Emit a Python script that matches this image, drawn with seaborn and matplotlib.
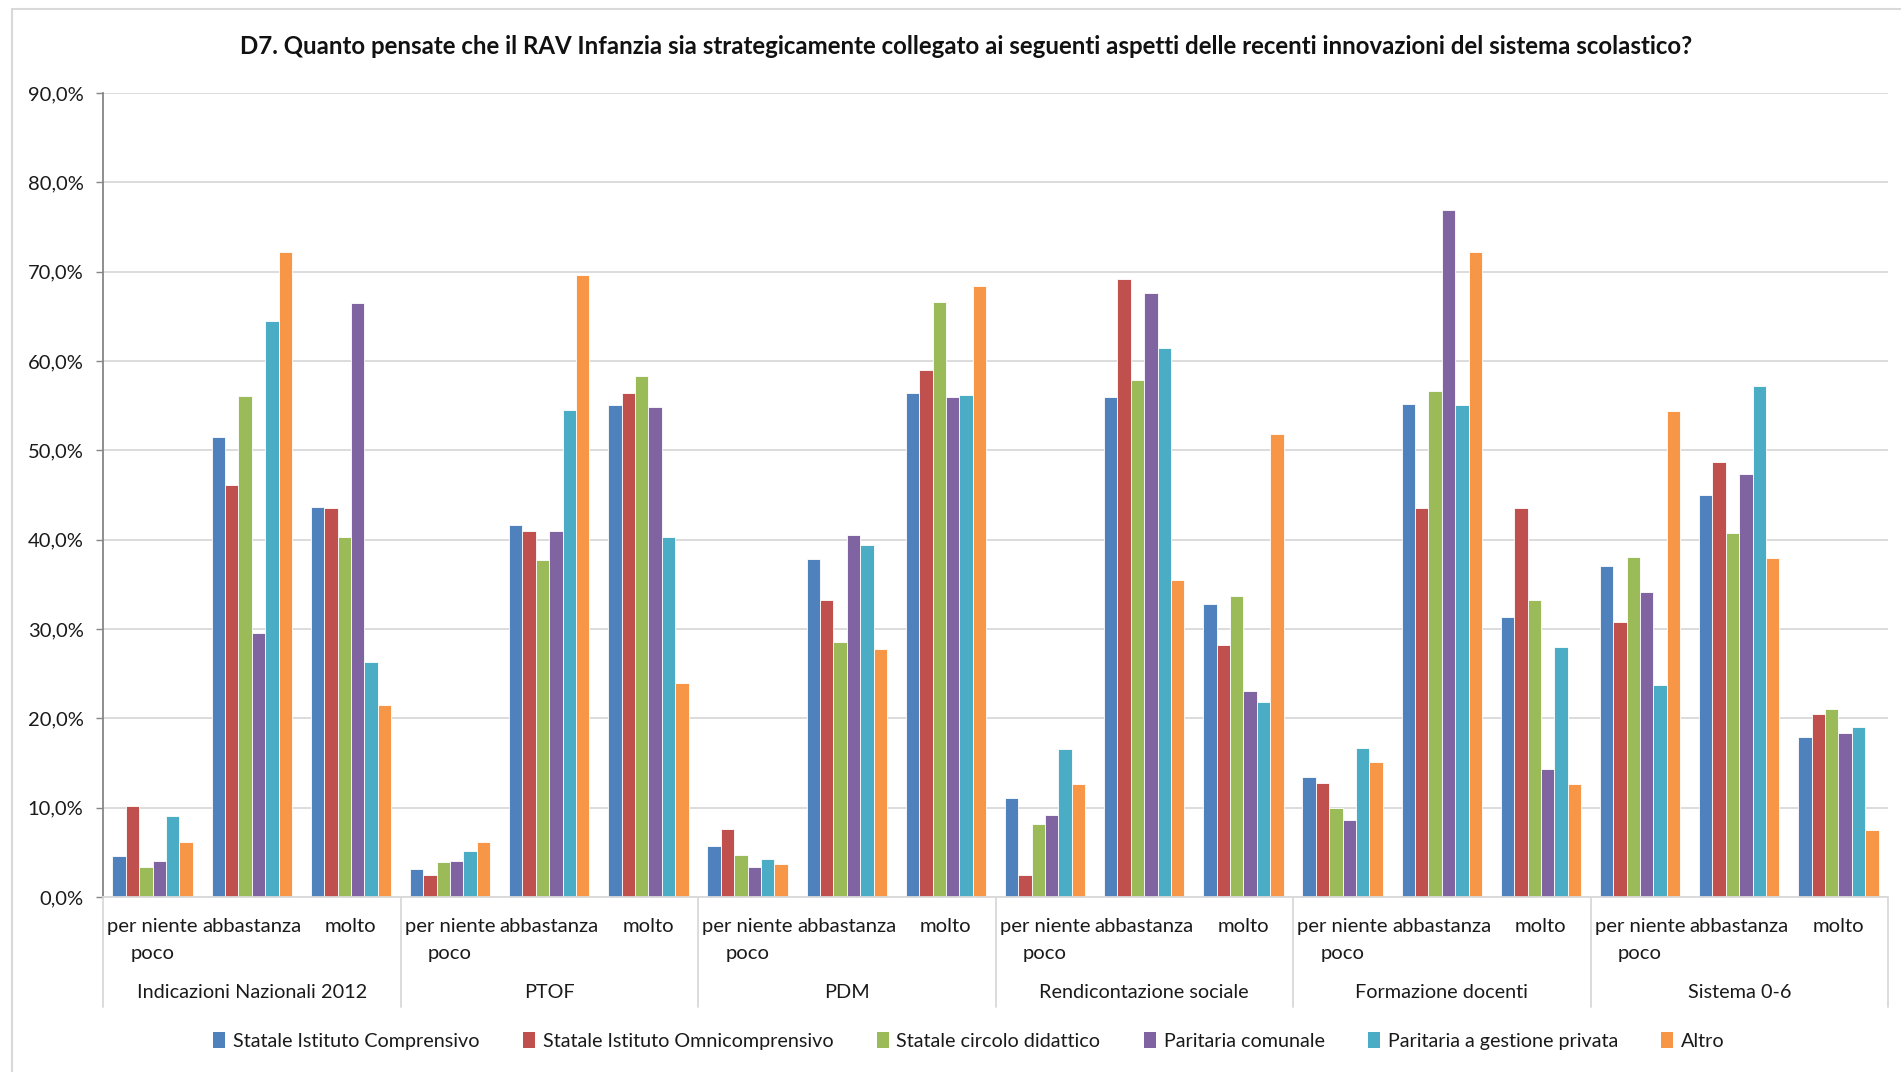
import matplotlib
matplotlib.use("Agg")
import matplotlib.pyplot as plt
from matplotlib.patches import Patch, Rectangle
from matplotlib.ticker import FuncFormatter, MultipleLocator
import seaborn as sns
import pandas as pd

# --- data -------------------------------------------------------------
groups = ["Indicazioni Nazionali 2012", "PTOF", "PDM",
          "Rendicontazione sociale", "Formazione docenti", "Sistema 0-6"]
levels = ["per niente\npoco", "abbastanza", "molto"]
series = ["Statale Istituto Comprensivo", "Statale Istituto Omnicomprensivo",
          "Statale circolo didattico", "Paritaria comunale",
          "Paritaria a gestione privata", "Altro"]

# values in %, one list per series, ordered group by group (pnp, abbastanza, molto)
statale_comprensivo = [4.6, 51.5, 43.7,   3.1, 41.6, 55.1,   5.7, 37.8, 56.4,
                       11.1, 56.0, 32.8,  13.4, 55.2, 31.3,  37.1, 45.0, 17.9]
statale_omnicomprensivo = [10.2, 46.1, 43.6,  2.5, 41.0, 56.4,  7.6, 33.3, 59.0,
                           2.5, 69.2, 28.2,  12.8, 43.6, 43.6,  30.8, 48.7, 20.5]
statale_circolo = [3.4, 56.1, 40.3,   3.9, 37.7, 58.3,   4.7, 28.5, 66.6,
                   8.2, 57.9, 33.7,  10.0, 56.6, 33.3,  38.1, 40.8, 21.0]
paritaria_comunale = [4.0, 29.5, 66.5,   4.0, 41.0, 54.8,   3.4, 40.5, 56.0,
                      9.2, 67.6, 23.1,   8.6, 76.9, 14.3,  34.1, 47.4, 18.4]
paritaria_privata = [9.1, 64.5, 26.3,   5.2, 54.5, 40.3,   4.2, 39.4, 56.2,
                     16.6, 61.4, 21.8,  16.7, 55.1, 28.0,  23.7, 57.2, 19.0]
altro = [6.2, 72.2, 21.5,   6.2, 69.6, 24.0,   3.7, 27.8, 68.4,
         12.6, 35.5, 51.8,  15.1, 72.2, 12.6,  54.4, 37.9, 7.5]

palette = ["#4F81BD", "#C0504D", "#9BBB59", "#8064A2", "#4BACC6", "#F79646"]
title = ("D7. Quanto pensate che il RAV Infanzia sia strategicamente collegato "
         "ai seguenti aspetti delle recenti innovazioni del sistema scolastico?")

# --- long table ---------------------------------------------------------
slots = [f"{g}|{l}" for g in groups for l in levels]
values = [statale_comprensivo, statale_omnicomprensivo, statale_circolo,
          paritaria_comunale, paritaria_privata, altro]
rows = []
for name, vals in zip(series, values):
    for slot, v in zip(slots, vals):
        rows.append({"slot": slot, "serie": name, "valore": v})
df = pd.DataFrame(rows)

# --- figure -------------------------------------------------------------
sns.set_theme(style="white")
plt.rcParams["font.family"] = ["Lato", "DejaVu Sans"]
W, H = 1901, 1072
fig = plt.figure(figsize=(W / 100, H / 100), dpi=100)

# light chart frame
fig.patches.append(Rectangle((12 / W, -0.05), 1.1, 1 - 9 / H + 0.05,
                             transform=fig.transFigure, fill=False,
                             edgecolor="#d9d9d9", linewidth=1.5))

x0, x1, y_top, y_bot = 103, 1888, 93, 897
ax = fig.add_axes([x0 / W, 1 - y_bot / H, (x1 - x0) / W, (y_bot - y_top) / H])

sns.barplot(data=df, x="slot", y="valore", hue="serie", order=slots,
            hue_order=series, palette=palette, width=0.81, ax=ax,
            edgecolor="white", linewidth=0.6, saturation=1)
ax.get_legend().remove()

ax.set_ylim(0, 90)
ax.set_xlim(-0.5, len(slots) - 0.5)
ax.yaxis.set_major_locator(MultipleLocator(10))
ax.yaxis.set_major_formatter(FuncFormatter(lambda v, _: f"{v:.1f}%".replace(".", ",")))
ax.grid(axis="y", color="#d9d9d9", linewidth=1.3)
ax.set_axisbelow(True)
for s in ["top", "right"]:
    ax.spines[s].set_visible(False)
ax.spines["left"].set_color("#868686")
ax.spines["left"].set_linewidth(1.3)
ax.spines["bottom"].set_color("#d9d9d9")
ax.spines["bottom"].set_linewidth(1.3)
ax.set_xlabel("")
ax.set_ylabel("")

ax.tick_params(axis="y", length=5, width=1, color="#868686", labelsize=14.5,
               labelcolor="#1a1a1a", pad=9, left=True)
ax.set_xticks(range(len(slots)))
ax.set_xticklabels(levels * len(groups), fontsize=14.6, color="#1a1a1a",
                   linespacing=1.7, va="top")
ax.tick_params(axis="x", length=0, pad=15)

# group labels and separators below the axis
trans = ax.get_xaxis_transform()
px = 1.0 / (y_bot - y_top)
for i, g in enumerate(groups):
    ax.text(i * 3 + 1, -96 * px, g, transform=trans, ha="center", va="center",
            fontsize=14.3, color="#1a1a1a")
for b in range(len(groups) + 1):
    ax.plot([b * 3 - 0.5] * 2, [0, -110 * px], transform=trans, clip_on=False,
            color="#d9d9d9", linewidth=1.3)

fig.text(966 / W, 1 - 46 / H, title, ha="center", va="center", fontsize=17.3,
         fontweight="bold", color="#111111")

handles = [Patch(facecolor=c, edgecolor="none") for c in palette]
fig.legend(handles, series, loc="center", bbox_to_anchor=(969 / W, 1 - 1041 / H),
           ncol=6, frameon=False, fontsize=14.2, handlelength=0.6,
           handleheight=0.9, handletextpad=0.4, columnspacing=2.2,
           labelcolor="#1a1a1a")

fig.savefig("out.png", dpi=100)
